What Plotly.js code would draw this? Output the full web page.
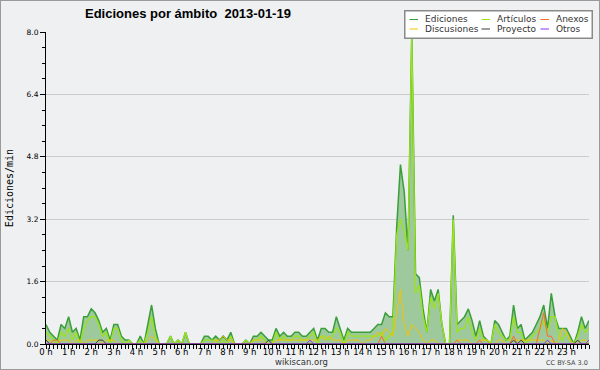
<!DOCTYPE html>
<html><head><meta charset="utf-8">
<script src="https://cdn.plot.ly/plotly-3.0.1.min.js"></script>
<style>
html,body{margin:0;padding:0;background:#eff0f1}
#chart{width:600px;height:370px;box-sizing:border-box;border:1px solid #9a9a9a;background:#eff0f1}
</style>
</head><body><div id="chart"></div>
<script>
// 10-minute samples from 00:00 to 24:00 (edits per minute)
const sampleCount = 145;
const times = Array.from({length: sampleCount}, (_, i) => i / 6);

const ediciones = [
  0.5,0.3,0.2,0.1,0.5,0.4,  0.7,0.3,0.4,0.1,0.7,0.7,  0.9,0.8,0.6,0.3,0.4,0.1,  0.5,0.5,0.2,0.1,0.1,0,
  0,0.2,0,0.5,1.0,0.4,      0,0,0,0.2,0,0.1,          0,0.3,0,0,0,0,            0.2,0.2,0.1,0.2,0.1,0.2,
  0.1,0.3,0,0,0,0.1,        0,0.2,0.2,0.3,0.2,0.1,    0.1,0.4,0.2,0.3,0.2,0.2,  0.3,0.3,0.2,0.2,0.3,0.4,
  0.1,0.4,0.4,0.3,0.3,0.7,  0.4,0.1,0.4,0.3,0.3,0.3,  0.3,0.3,0.3,0.4,0.5,0.5,  0.8,0.7,0.7,3.0,4.6,3.9,
  2.4,8.0,1.8,1.7,0.9,0.3,  1.4,1.1,1.4,0.5,0,0,      3.3,0.5,0.6,0.7,0.9,0.6,  0.2,0.6,0.2,0.1,0,0.6,
  0.5,0.3,0.1,0.2,1.0,0.4,  0.5,0.1,0.2,0.3,0.5,0.7,  1.0,0.4,1.3,0.7,0.4,0.4,  0.4,0.2,0,0.3,0.7,0.4,
  0.6
];
const articulos = [
  0.3,0.2,0.1,0,0.3,0.2,    0.4,0.1,0.3,0,0.4,0.6,    0.7,0.7,0.5,0.2,0.3,0,    0.4,0.4,0.1,0,0.1,0,
  0,0.1,0,0.3,0.7,0.2,      0,0,0,0.2,0,0.1,          0,0.3,0,0,0,0,            0.1,0.1,0.1,0.1,0,0.1,
  0,0.2,0,0,0,0.1,          0,0.1,0.1,0.2,0.1,0,      0,0.3,0.1,0.2,0.1,0.1,    0.2,0.2,0.1,0.1,0.2,0.3,
  0,0.2,0.2,0.1,0.2,0.4,    0.3,0,0.3,0.2,0.2,0.2,    0.2,0.2,0.2,0.2,0.2,0.3,  0.1,0.2,0.3,2.8,3.2,2.9,
  2.4,7.9,1.3,1.5,0.7,0.3,  1.2,0.9,1.3,0.5,0,0,      3.2,0.3,0.4,0.4,0.7,0.3,  0.1,0.4,0.1,0.1,0,0.5,
  0.3,0.2,0.1,0.1,0.7,0.3,  0.3,0,0.1,0.2,0.3,0.4,    0.6,0.3,0.7,0.7,0.2,0.1,  0.3,0.1,0,0.2,0.5,0.3,
  0.4
];
const discusiones = [
  0.1,0.1,0,0,0.1,0.1,      0.1,0,0.1,0.1,0,0.1,      0.1,0.1,0.1,0,0.1,0.1,    0.1,0,0,0,0,0,
  0,0,0,0.1,0.2,0.1,        0,0,0,0,0,0,              0,0,0,0,0,0,              0,0,0,0.1,0.1,0.2,
  0.1,0.1,0,0,0,0,          0,0.1,0.1,0.1,0,0,        0,0.1,0.1,0.1,0.1,0.1,    0.1,0.1,0.1,0.1,0.1,0.1,
  0.1,0.2,0.1,0.2,0.1,0.1,  0.1,0,0.1,0.1,0.1,0.1,    0,0.1,0.1,0.2,0.3,0.2,    0.4,0.3,0.2,0.8,1.4,0.5,
  0.2,0.5,0.4,0.3,0.1,0,    0.1,0.1,0,0,0,0,          0,0.1,0.1,0.1,0.1,0,      0,0.1,0.1,0.1,0,0,
  0.1,0.1,0,0,0.1,0.1,      0.1,0.1,0.1,0.1,0.1,0.1,  0.1,0,0.1,0,0.1,0.4,      0.3,0.1,0,0,0.1,0.1,
  0
];
const anexos = [
  0,0,0.1,0.1,0,0,          0,0,0,0,0,0,              0,0,0,0,0,0,              0,0,0,0,0,0,
  0,0,0,0,0,0,              0,0,0,0,0,0,              0,0,0,0,0,0,              0,0,0,0,0,0,
  0,0,0,0,0,0,              0,0,0,0,0,0,              0,0,0,0,0,0,              0,0,0,0,0,0,
  0,0,0,0,0,0,              0,0,0,0,0,0,              0,0,0,0,0,0.2,            0,0,0,0,0,0,
  0,0,0,0,0,0,              0,0,0,0,0,0,              0,0.1,0,0,0,0,            0,0.1,0,0,0,0,
  0,0,0,0,0.2,0,            0,0,0,0,0,0.4,            0.8,0.2,0.2,0,0,0,        0,0,0,0,0,0,
  0
];
const proyecto = [
  0.1,0,0,0,0,0,            0,0,0,0,0,0,              0,0,0.1,0.1,0,0,          0,0,0,0,0,0,
  0,0,0,0,0,0,              0,0,0,0,0,0,              0,0,0,0,0,0,              0,0,0,0,0,0,
  0,0,0,0,0,0,              0,0,0,0,0,0.1,            0,0,0,0,0,0,              0,0,0,0,0,0,
  0,0,0,0,0,0,              0,0,0,0,0,0,              0,0,0,0,0,0,              0,0,0,0,0,0,
  0,0,0,0,0,0,              0,0,0,0,0,0,              0,0,0,0,0,0,              0,0,0,0,0,0,
  0,0,0,0,0.1,0,            0.1,0,0,0,0,0,            0,0,0,0,0,0,              0,0,0,0.1,0,0,
  0
];
const otros = [
  0,0,0,0,0,0,              0,0,0,0,0,0,              0,0,0,0,0,0,              0,0,0,0,0,0,
  0,0,0,0,0,0,              0,0,0,0,0,0,              0,0,0,0,0,0,              0,0,0,0,0,0,
  0,0,0,0,0,0,              0,0,0,0,0,0,              0,0,0,0,0,0,              0,0,0,0,0.1,0,
  0,0,0,0,0,0,              0,0,0,0,0,0,              0,0,0,0,0,0,              0,0,0,0,0,0,
  0,0,0,0,0,0,              0,0,0,0,0,0,              0,0,0,0,0,0,              0,0,0,0,0,0,
  0,0,0,0,0,0,              0,0,0,0,0,0,              0,0.1,0,0,0,0,            0,0,0,0,0,0,
  0.1
];

const hourTicks = [0,1,2,3,4,5,6,7,8,9,10,11,12,13,14,15,16,17,18,19,20,21,22,23];
const hourLabels = hourTicks.map(h => h + ' h');
const yTicks = [0, 1.6, 3.2, 4.8, 6.4, 8.0];

const seriesNames = ['Ediciones','Artículos','Anexos','Discusiones','Proyecto','Otros'];
const seriesColors = {
  'Ediciones':'#3a9f3a','Artículos':'#9be31a','Discusiones':'#f5c400',
  'Anexos':'#ff6a2a','Proyecto':'#3a3a3a','Otros':'#8833ff'
};

const W = 598, H = 368, M = {l:45, r:10, t:31, b:25};
const pw = W - M.l - M.r, ph = H - M.t - M.b;
function fx(px){ return (px - 1 - M.l) / pw; }
function fy(py){ return 1 - (py - 1 - M.t) / ph; }

function lineTrace(name, y, width){
  return {x: times, y: y, name: name, type:'scatter', mode:'lines',
          line:{color: seriesColors[name], width: width}, showlegend:false,
          hoverinfo:'skip'};
}
const edTrace = lineTrace('Ediciones', ediciones, 1.5);
edTrace.fill = 'tozeroy';
edTrace.fillcolor = '#9dc99d';

const data = [
  edTrace,
  lineTrace('Artículos', articulos, 1.3),
  lineTrace('Discusiones', discusiones, 1),
  lineTrace('Anexos', anexos, 1),
  lineTrace('Proyecto', proyecto, 1),
  lineTrace('Otros', otros, 1)
];

// manual legend (3 columns x 2 rows), drawn in the annotation layer so it sits on top of the traces
const legCols = [408, 480, 539];
const legRows = [19.5, 29];
const annotations = [{
  text:' ', xref:'paper', yref:'paper', x: fx(404), y: fy(10), xanchor:'left', yanchor:'top',
  width: 186, height: 26, showarrow:false, bgcolor:'#ffffff', bordercolor:'#8a8a8a',
  borderwidth:1.5, borderpad:0, font:{size:8}
}];
seriesNames.forEach((name, k) => {
  const c = k % 3, r = Math.floor(k / 3);
  annotations.push({text:'', xref:'paper', yref:'paper', x: fx(legCols[c] + 10), y: fy(legRows[r]),
    showarrow:true, arrowhead:0, arrowwidth:1.2, arrowcolor: seriesColors[name],
    ax:-10, ay:0, standoff:0, startstandoff:0});
  annotations.push({text: name, xref:'paper', yref:'paper', x: fx(legCols[c] + 15), y: fy(legRows[r]),
    xanchor:'left', yanchor:'middle', showarrow:false,
    font:{family:'DejaVu Sans', size:9, color:'#333'}});
});
annotations.push({text:'wikiscan.org', xref:'paper', yref:'paper', x: fx(301), y: fy(362),
  xanchor:'center', yanchor:'middle', showarrow:false, font:{family:'DejaVu Sans', size:8.5, color:'#333'}});
annotations.push({text:'CC BY-SA 3.0', xref:'paper', yref:'paper', x: fx(590), y: fy(363),
  xanchor:'right', yanchor:'middle', showarrow:false, font:{family:'DejaVu Sans', size:6.5, color:'#444'}});

const layout = {
  width: W, height: H,
  margin: M,
  paper_bgcolor:'#eff0f1', plot_bgcolor:'#eff0f1',
  showlegend:false,
  title:{text:'<b>Ediciones por ámbito\u00a0 2013-01-19</b>', xref:'container', yref:'container',
    x: 84/W, xanchor:'left', y: 1 - 12.5/H, yanchor:'middle',
    font:{family:'Liberation Sans', size:13, color:'#000'}},
  xaxis:{range:[0,24], showline:true, linecolor:'#000', linewidth:1, mirror:false,
    ticks:'outside', ticklen:4, tickcolor:'#000', tickwidth:1, ticklabelstandoff:-4,
    tickmode:'array', tickvals: hourTicks, ticktext: hourLabels,
    tickfont:{family:'DejaVu Sans', size:8.5, color:'#000'},
    showgrid:false, zeroline:false, fixedrange:true,
    minor:{dtick:1/6, tick0:0, ticks:'outside', ticklen:4, tickcolor:'#000', tickwidth:1, showgrid:false}},
  yaxis:{range:[0,8.0], showline:true, linecolor:'#000', linewidth:1,
    ticks:'outside', ticklen:5, tickcolor:'#000', tickwidth:1,
    tickmode:'array', tickvals: yTicks, ticktext: yTicks.map(v => v.toFixed(1)),
    tickfont:{family:'DejaVu Sans', size:7.5, color:'#000'},
    showgrid:true, gridcolor:'#cccccc', gridwidth:1, zeroline:false, fixedrange:true,
    minor:{dtick:0.4, tick0:0, ticks:'outside', ticklen:3, tickcolor:'#000', tickwidth:1, showgrid:false},
    title:{text:'Ediciones/min', standoff:11, font:{family:'DejaVu Sans Mono', size:10, color:'#000'}}},
  annotations: annotations
};

Plotly.newPlot('chart', data, layout, {staticPlot:true, displayModeBar:false});
</script>
</body></html>
